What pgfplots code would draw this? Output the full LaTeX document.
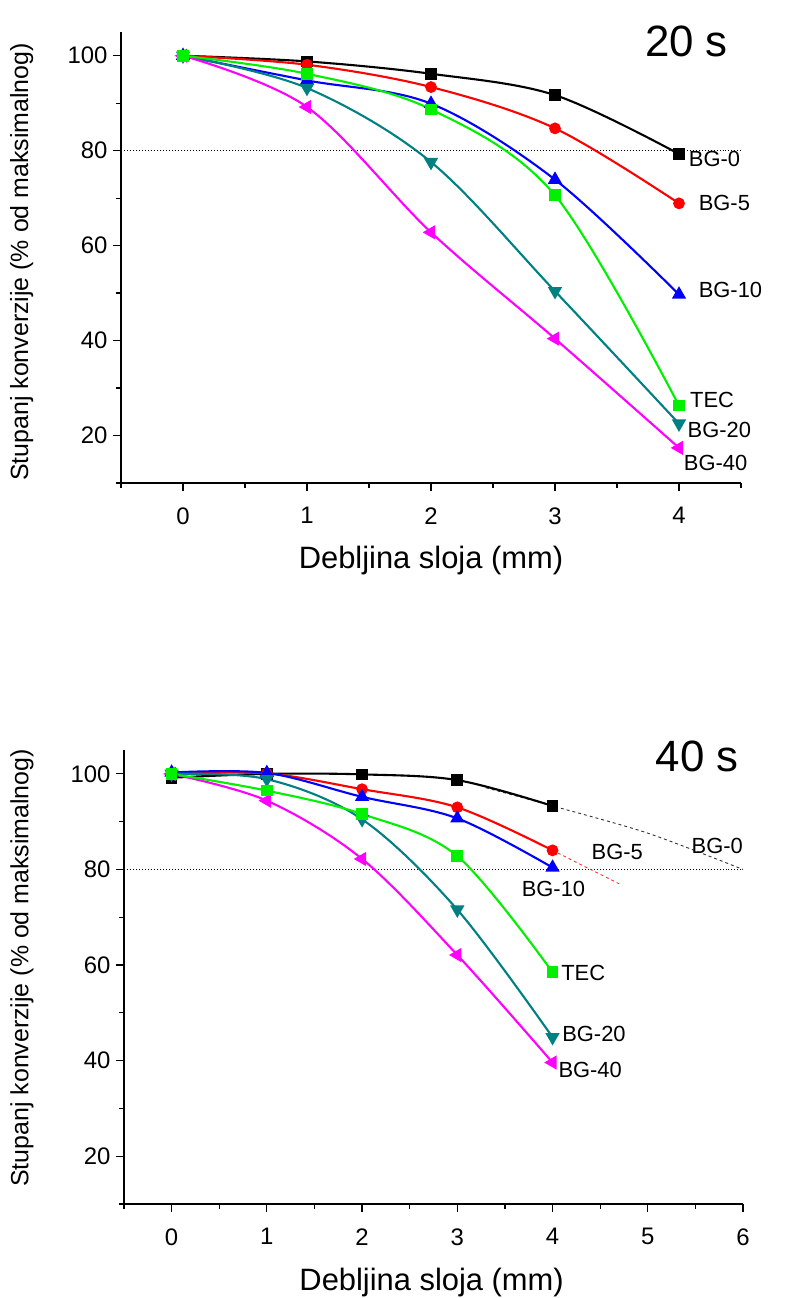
\documentclass[border=0pt]{standalone}
\usepackage{pgfplots}
\pgfplotsset{compat=1.18}
\usepackage{fontspec}
\setmainfont{Liberation Sans}
\definecolor{cBG0}{RGB}{0,0,0}
\definecolor{cBG5}{RGB}{255,0,0}
\definecolor{cBG10}{RGB}{0,0,255}
\definecolor{cTEC}{RGB}{0,240,0}
\definecolor{cBG20}{RGB}{0,128,128}
\definecolor{cBG40}{RGB}{255,0,255}
\tikzset{lab/.style={font=\fontsize{22}{23}\selectfont, inner sep=1bp}}
\pgfplotsset{
  myaxis/.style={
    scale only axis,
    axis x line*=bottom, axis y line*=left,
    axis line style={-, line width=1.3bp},
    tick align=outside,
    major tick length=8bp, minor tick length=5bp,
    every tick/.style={black, line width=1.2bp},
    ymin=10, ymax=105,
    ytick={20,40,60,80,100},
    minor ytick={10,30,50,70,90},
    /pgf/number format/assume math mode=true,
    tick label style={font=\fontsize{24}{24}\selectfont},
    xticklabel style={yshift=-13bp},
    yticklabel style={xshift=-2bp},
    label style={font=\fontsize{31}{33}\selectfont},
    ylabel style={font=\fontsize{25}{27}\selectfont},
    xlabel={Debljina sloja (mm)},
    ylabel={Stupanj konverzije (\% od maksimalnog)},
    clip=false,
  },
  ser/.style={line width=2.1bp, smooth, tension=0.55, mark size=4.8bp},
  tri/.style={mark=triangle*, mark size=6.2bp},
}
\begin{document}
\begin{tikzpicture}
\useasboundingbox (0,0) rectangle (790bp,1298bp);
% ---------- top: 20 s ----------
\begin{axis}[myaxis, at={(121bp,815bp)}, anchor=south west,
  width=620bp, height=451bp,
  xmin=-0.5, xmax=4.5, xtick={0,1,2,3,4},
  minor xtick={-0.5,0.5,1.5,2.5,3.5,4.5},
  xlabel style={at={(axis description cs:0.5,-0.172)}, anchor=center},
  ylabel style={at={(axis description cs:-0.16,0.49)}, anchor=center},
]
\addplot[black, dotted, line width=1bp, forget plot] coordinates {(-0.5,80) (4.5,80)};
\addplot[ser, cBG0, mark=square*] coordinates {(0,100) (1,98.8) (2,96.2) (3,91.7) (4,79.3)};
\addplot[ser, cBG5, mark=*] coordinates {(0,100) (1,98.1) (2,93.4) (3,84.7) (4,68.9)};
\addplot[ser, cBG10, tri] coordinates {(0,100) (1,94.8) (2,89.9) (3,73.9) (4,49.7)};
\addplot[ser, cBG20, tri, mark options={rotate=180}] coordinates {(0,100) (1,93.2) (2,77.6) (3,50.4) (4,22.5)};
\addplot[ser, cBG40, tri, mark options={rotate=90}] coordinates {(0,100) (1,89.2) (2,62.8) (3,40.4) (4,17.4)};
\addplot[ser, cTEC, mark=square*] coordinates {(0,100) (1,96.2) (2,88.7) (3,70.6) (4,26.3)};
\node[lab, anchor=west] at (axis cs:4.07,78.3) {BG-0};
\node[lab, anchor=west] at (axis cs:4.15,68.9) {BG-5};
\node[lab, anchor=west] at (axis cs:4.15,50.7) {BG-10};
\node[lab, anchor=west] at (axis cs:4.08,27.4) {TEC};
\node[lab, anchor=west] at (axis cs:4.06,21.1) {BG-20};
\node[lab, anchor=west] at (axis cs:4.03,14.3) {BG-40};
\node[font=\fontsize{44}{44}\selectfont] at (axis cs:4.06,103.0) {20 s};
\end{axis}
% ---------- bottom: 40 s ----------
\begin{axis}[myaxis, at={(124bp,94bp)}, anchor=south west,
  width=619bp, height=454bp,
  xmin=-0.5, xmax=6, xtick={0,1,2,3,4,5,6},
  minor xtick={-0.5,0.5,1.5,2.5,3.5,4.5,5.5},
  xlabel style={at={(axis description cs:0.497,-0.173)}, anchor=center},
  ylabel style={at={(axis description cs:-0.165,0.52)}, anchor=center},
]
\addplot[black, dotted, line width=1bp, forget plot] coordinates {(-0.5,80) (6,80)};
\addplot[black!80, dashed, line width=0.9bp, smooth, forget plot] coordinates {(3.3,97.1) (4,93.3) (5,87.6) (6,80.0)};
\addplot[red!80, dashed, line width=0.9bp, forget plot] coordinates {(4,84.0) (4.7,77.0)};
\addplot[ser, cBG0, mark=square*] coordinates {(0,99.2) (1,100) (2,99.9) (3,98.7) (4,93.3)};
\addplot[ser, cBG5, mark=*] coordinates {(0,100) (1,100.1) (2,96.8) (3,93.0) (4,84.0)};
\addplot[ser, cBG10, tri] coordinates {(0,100.3) (1,100.2) (2,95.2) (3,90.7) (4,80.4)};
\addplot[ser, cBG20, tri, mark options={rotate=180}] coordinates {(0,100) (1,98.9) (2,90.5) (3,71.6) (4,44.9)};
\addplot[ser, cBG40, tri, mark options={rotate=90}] coordinates {(0,100) (1,94.4) (2,82.2) (3,62.1) (4,39.6)};
\addplot[ser, cTEC, mark=square*] coordinates {(0,100) (1,96.5) (2,91.6) (3,82.8) (4,58.5)};
\node[lab] at (axis cs:5.73,85.0) {BG-0};
\node[lab] at (axis cs:4.68,83.6) {BG-5};
\node[lab] at (axis cs:4.01,75.9) {BG-10};
\node[lab, anchor=west] at (axis cs:4.08,58.3) {TEC};
\node[lab, anchor=west] at (axis cs:4.09,45.6) {BG-20};
\node[lab, anchor=west] at (axis cs:4.05,38.0) {BG-40};
\node[font=\fontsize{44}{44}\selectfont] at (axis cs:5.52,103.6) {40 s};
\end{axis}
\end{tikzpicture}
\end{document}
